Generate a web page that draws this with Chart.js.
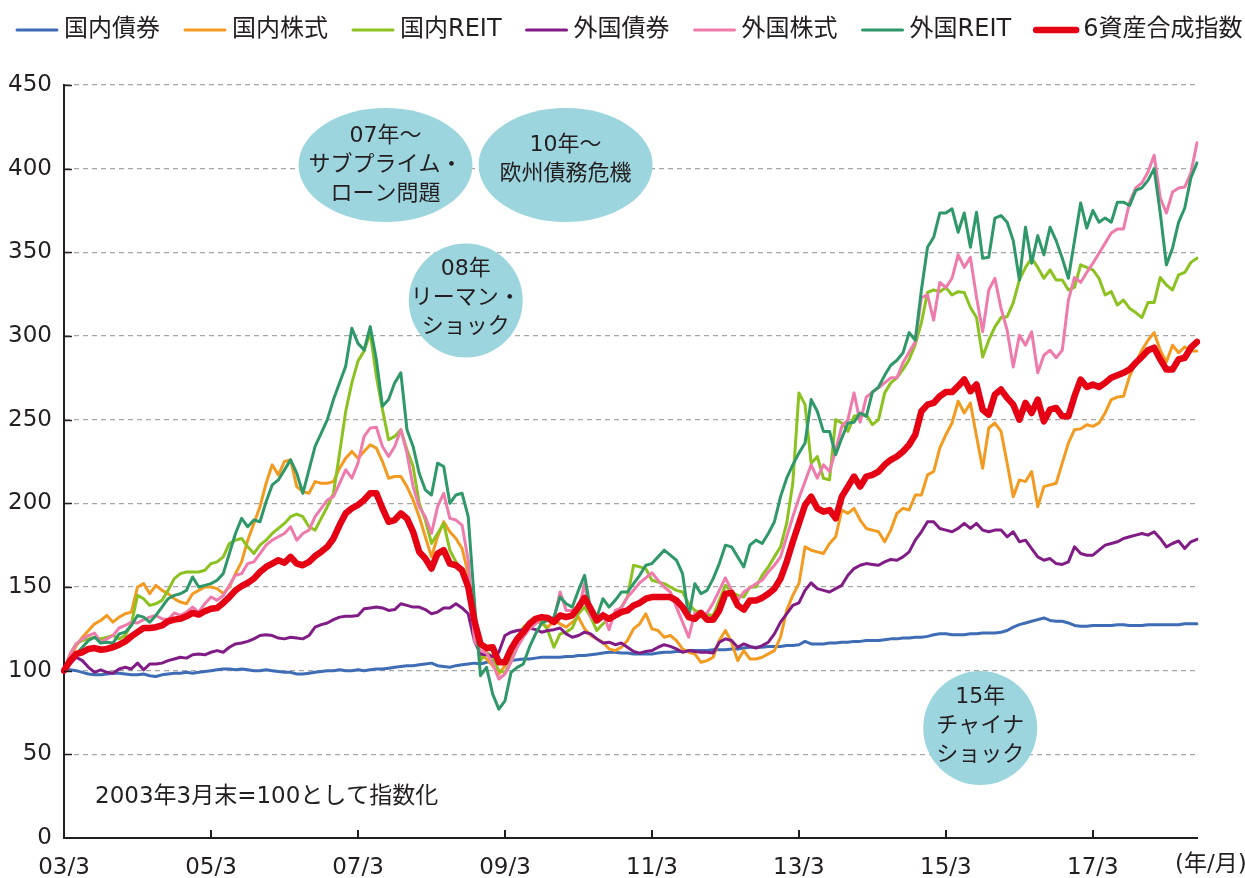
<!DOCTYPE html>
<html lang="ja">
<head>
<meta charset="utf-8">
<script src="https://cdn.jsdelivr.net/npm/chart.js@4.4.1/dist/chart.umd.min.js"></script>
<style>
html,body{margin:0;padding:0;background:#fff;}
#wrap{width:1245px;height:878px;position:relative;}
</style>
</head>
<body>
<div id="wrap"><canvas id="c"></canvas></div>
<script>
// ---- categories: month ends from 2003/3 to 2018/8 ----
const months = [];
for (let k = 0; k < 186; k++) {
  const m = 3 + k;
  months.push((2003 + Math.floor((m - 1) / 12)) + '/' + (((m - 1) % 12) + 1));
}
const xTickLabels = ['03/3', '05/3', '07/3', '09/3', '11/3', '13/3', '15/3', '17/3'];
const xUnitLabel = '(年/月)';
const noteText = '2003年3月末=100として指数化';

// ---- series values (index, 2003/3 = 100) ----
const domBond = [
 100,100.5,100,99,98,97.5,97.5,98,98.5,98.5,98,97.5,
 97.5,98,97,96.5,97.5,98,98.5,98.5,99,98.5,99,99.5,
 100,100.5,101,101,100.5,101,100.5,100,100,100.5,100,99.5,
 99,99,98,98,98.5,99,99.5,100,100,100.5,100,100,
 100.5,100,100.5,101,101,101.5,102,102.5,103,103,103.5,104,
 104.5,103,102.5,102,103,103.5,104,104.5,104,105,105.5,106,
 106,106,106.5,107,107,107.5,108,108,108,108,108.5,108.5,
 109,109,109.5,110,110.5,111,111,110.5,110.5,110,110,110,
 110,110.5,111,111,111.5,111.5,112,112,112,112,112.5,112.5,
 112.5,113,113,113.5,114,114,114,114.5,114.5,114.5,115,115,
 115.5,117.5,116,116,116,116.5,116.5,117,117,117.5,117.5,118,
 118,118,118.5,119,119,119.5,119.5,120,120,120.5,121.5,122,
 122,121.5,121.5,121.5,122,122,122.5,122.5,122.5,123,124,126,
 127.5,128.5,129.5,130.5,131.5,130,129.5,129.5,128.5,127,126.5,126.5,
 127,127,127,127,127.5,127.5,127,127,127,127.5,127.5,127.5,
 127.5,127.5,127.5,128,128,128];

const domStock = [
 100,108,115,120,124,128,130,133,129,132,134,135,
 150,152,146,151,148,146,143,141,140,146,148,150,
 150,149,146,150,158,165,178,188,198,212,223,217,
 225,226,210,207,206,213,212,212,213,221,227,231,
 227,231,235,233,225,215,216,216,210,202,192,180,
 168,180,189,183,179,173,158,124,110,107,103,98,
 103,110,116,123,127,130,128,126,130,128,126,129,
 132,125,121,119,117,113,112,114,118,125,128,134,
 125,124,120,121,118,113,111,110,105,106,108,118,
 124,117,106,112,107,107,108,110,112,120,136,145,
 152,174,172,171,170,176,180,196,194,197,190,185,
 184,183,177,184,194,197,196,205,205,217,219,233,
 241,248,261,254,260,240,221,245,248,243,224,204,
 214,213,219,198,210,211,212,224,236,244,244.5,247,
 246,248,254,262,263.5,264,276,284,291.5,297.5,302,291.5,
 284.5,294.5,290,293.5,291,291];

const domREIT = [
 100,110,116,118,119,120,119,120,121,119,121,128,
 145,143,139,140,142,148,155,158,159,159,159,160,
 164,165,168,176,178,179,174,170,175,178,182,185,
 188,192,193.5,192,186,184,191,198,206,230,255,272,
 285,291,302,276,256,238,240,244,232,222,200,190,
 176,182,188,172,165,160,150,128,106,111,108,100,
 99,106,120,126,129,130,130,124,114,122,123,125.5,
 134,138,132,124,128,131,133,138,144,163,162,161,
 154,153,152,150,148,147,140,136,134.5,133.5,133,142,
 151,147,145,144,150,150,157,162,168,174,188,212,
 266,259,224,228,215,214,250,248,243,252,253,253,
 247,250,266,272,275,280,286,295,308,326,327.5,326.5,
 329,324.5,326.5,326,317,311,287.5,297.5,305.5,311,311.5,320,
 333.5,341,346.5,341,334.5,339.5,333.5,333.5,327.5,329,342.5,341,
 339.5,334.5,324.5,326.5,318.5,321.5,316.5,314,311,320,320,335,
 330.5,327.5,336.5,338,344,346.5];

const forBond = [
 100,104,108,106,102,99,100.5,99,98.5,101,102,101,
 104.5,100.5,104,104,104.5,106,107,108,107.5,109.5,110,109.5,
 111,112,111,114,116,116.5,117.5,119,121,121.5,121,119.5,
 119,120,119.5,119,121,126,127.5,128.5,130.5,132,132.5,132.5,
 133,137,137.5,138,137.5,136,136.5,140,139,138,138,136.5,
 134,135,137.5,137.5,140,137.5,134,118,110,109.5,108.5,111,
 121,123,124,124.5,125.5,124.5,123,124,124.5,125.5,122,120,
 121,123,122,119,116.5,117,115.5,116.5,114,111.5,110.5,111.5,
 112,114,115.5,114.5,113,111,112,111.5,111,111,110.5,117,
 119,118,114,116,114.5,113.5,115,117,122,129,134,139,
 140.5,148,152.5,149,148,147,149,151,157,161,163,164,
 163.5,163,165,166.5,166,168,171,178,183,189,189,185,
 184,183,185,188,185,188,184,183,184,184,180,183,
 177,178,173,168,166,167,164,163.5,165,174,170,169,
 169,172,175,176,177,179,180,181,182,181,183,179,
 174,176,177.5,173,177,178.5];

const forStock = [
 100,110,116,119,121,122.5,117,119,121,125.5,127,129,
 128.5,130.5,132,133,131,130.5,134.5,133,135,138,135,140,
 144,142,145,151,157,158,164,165,170,175,178,180,
 182,186,178,182,184,192,197,202,204,212,220,215,
 224,240,245,245.5,234,228,234,244,230,210,198,192,
 182,198,206,191,190,187,166,118,112,110.5,104,95,
 98,105,114,120,125,128,131,132,130.5,147,136,136,
 136,152,132,130.5,134.5,124.5,136,137.5,144,148,152.5,155.5,
 158.5,154,150,147,138,129,120,134.5,133,134.5,140.5,148,
 155.5,148,142,147,149.5,152,154,159,163,168,180,192,
 203,213,223,215,223,219,232,246,250,266,248.5,263.5,
 266.5,269,272,275,275,284,290.5,296.5,323,324.5,309.5,332,
 329,334.5,348.5,341,347,323,302.5,327.5,334.5,316.5,303.5,281.5,
 300.5,294.5,302.5,278,288.5,291.5,287,291.5,321.5,335,332,338,
 343.5,349.5,355.5,361.5,364,364,380,388.5,391.5,398,408,382.5,
 373.5,386,388.5,389,397.5,415.5];

const forREIT = [
 100,106,110,114,118,120,116.5,117,116.5,122,123,127,
 133,132,129,133,138,143,145,146,148,156,150,151,
 152,154,158,170,182,191,186,190,189,201,211,214,
 220,226,218,206,220,234,242,250,262,272,282,304.6,
 295.6,291.6,305.6,286,258,262,272,278,244,234,218,208,
 205,224,222,200,205,206,192,142,97,102,86,77,
 82,99,102,104,114,122,128.5,130,132,144,140,138,
 148,157,136,132,143,138,142,147,147,152,157,163,
 164,168,172,169,166,158,132,152,146,148,155,164,
 175,174,168,162,175,178,176,182,189,204,215,223,
 230,236,262,255,243,243,229,239,248,248.5,254,252,
 266.5,269.5,276.5,282.5,285.5,290,302,297.5,327.5,353,359,373.5,
 373.5,376,362,373.5,353,374,346.5,347,370.5,372,368,357,
 333.5,365,343.5,360,348.5,365,357,346.5,334.5,357,379.5,364.5,
 375,368,370.5,368,380,380,378,387,388.5,393,400,373.5,
 342.5,352.5,368,376.5,394.5,403.5];

const composite = [
 100,106,110,111,113,113.5,112.5,113,114,115.5,117.5,120.5,
 123,125.5,125.5,126,127,129.5,130.5,131,132.5,134.5,133.5,135.5,
 137,137.5,140.5,144,148,150.5,152.5,155,159,162,164,166,
 164.5,168,164,163,165,168.5,171,174,179,187,194,197,
 199,202,206,206,197,189,190,194,191,183,171,167,
 161,170,172,164,163,160,150,130,116,113.5,114,105,
 105,113,119,123,128,131,132,131.5,129,133,132,133,
 138,143.5,137,130,133,131,133,135,136,139,140.5,143,
 144,144,144,144,142,138,132,131,134.5,130.5,130.5,136,
 146,146.5,139,136.5,142,142,143.5,146,149,155,165,177,
 188,199,204,197,195,196,191,204,210,216,210,216,
 217,219,223,226,228,231,235,241,255,259,260,264,
 266.5,266.5,270,274,267,271,256,253,265,268,263,259,
 250,260,254,262,249,256,257,252,252,264,274,269.5,
 271,269.5,272,275,276.5,278,280,284,287.5,291.5,293,286,
 280,280,286,287,293,296.5];

// ---- styles ----
const FONT = '"DejaVu Sans", "Noto Sans CJK JP", sans-serif';
const TEXT = '#231f20';
const BUBBLE = '#9dd5df';

const series = [
  { label: '国内債券', data: domBond, color: '#3e6cb5', width: 3 },
  { label: '国内株式', data: domStock, color: '#f39a20', width: 3 },
  { label: '国内REIT', data: domREIT, color: '#8cc220', width: 3 },
  { label: '外国債券', data: forBond, color: '#811c86', width: 3 },
  { label: '外国株式', data: forStock, color: '#ef7bac', width: 3 },
  { label: '外国REIT', data: forREIT, color: '#2f9868', width: 3 },
  { label: '6資産合成指数', data: composite, color: '#e60013', width: 6.5 }
];

// annotation bubbles: centre in (month index, index value), radii in px
const bubbles = [
  { lines: ['07年〜', 'サブプライム・', 'ローン問題'], at: [52.5, 402.2], rx: 87, ry: 57, dy: 0 },
  { lines: ['10年〜', '欧州債務危機'], at: [81.9, 402.2], rx: 87, ry: 57, dy: -5 },
  { lines: ['08年', 'リーマン・', 'ショック'], at: [65.6, 321.2], rx: 57, ry: 57, dy: -2 },
  { lines: ['15年', 'チャイナ', 'ショック'], at: [149.6, 65.7], rx: 57, ry: 57, dy: -2 }
];

const decor = {
  id: 'decor',
  beforeDatasetsDraw(chart) {
    const { ctx, scales: { x, y } } = chart;
    ctx.save();
    bubbles.forEach(b => {
      const cx = x.getPixelForValue(b.at[0]);
      const cy = y.getPixelForValue(b.at[1]);
      ctx.fillStyle = BUBBLE;
      ctx.beginPath();
      ctx.ellipse(cx, cy, b.rx, b.ry, 0, 0, Math.PI * 2);
      ctx.fill();
      ctx.fillStyle = TEXT;
      ctx.font = '22px ' + FONT;
      ctx.textAlign = 'center';
      ctx.textBaseline = 'middle';
      const n = b.lines.length;
      b.lines.forEach((t, j) => ctx.fillText(t, cx, cy + b.dy + (j - (n - 1) / 2) * 29));
    });
    ctx.restore();
  },
  afterDraw(chart) {
    const { ctx, scales: { x, y } } = chart;
    ctx.save();
    // inward tick marks
    ctx.strokeStyle = TEXT;
    ctx.lineWidth = 2;
    for (let i = 24; i < months.length; i += 24) {
      const px = Math.round(x.getPixelForValue(i));
      ctx.beginPath(); ctx.moveTo(px, y.bottom); ctx.lineTo(px, y.bottom - 8); ctx.stroke();
    }
    ctx.lineWidth = 1.5;
    for (let v = 50; v <= 450; v += 50) {
      const py = Math.round(y.getPixelForValue(v)) + 0.5;
      ctx.beginPath(); ctx.moveTo(x.left, py); ctx.lineTo(x.left + 8, py); ctx.stroke();
    }
    // unit label on x axis
    ctx.fillStyle = TEXT;
    ctx.font = '23px ' + FONT;
    ctx.textAlign = 'left';
    ctx.textBaseline = 'top';
    ctx.fillText(xUnitLabel, 1175, x.top + 16);
    // note
    ctx.textBaseline = 'middle';
    ctx.fillText(noteText, 95, 797);
    // legend
    let lx = 15;
    const ly = 30;
    ctx.font = '24px ' + FONT;
    ctx.lineCap = 'round';
    chart.data.datasets.forEach(ds => {
      ctx.strokeStyle = ds.borderColor;
      ctx.lineWidth = ds.borderWidth;
      ctx.beginPath(); ctx.moveTo(lx + 2, ly); ctx.lineTo(lx + 42, ly); ctx.stroke();
      lx += 49;
      ctx.fillStyle = TEXT;
      ctx.fillText(ds.label, lx, ly);
      lx += ctx.measureText(ds.label).width + 23;
    });
    ctx.restore();
  }
};

new Chart(document.getElementById('c'), {
  type: 'line',
  data: {
    labels: months,
    datasets: series.map((s, k) => ({
      label: s.label,
      data: s.data,
      borderColor: s.color,
      backgroundColor: s.color,
      borderWidth: s.width,
      pointRadius: 0,
      pointHoverRadius: 0,
      tension: 0,
      fill: false,
      borderJoinStyle: 'round',
      borderCapStyle: 'round',
      order: series.length - k
    }))
  },
  options: {
    responsive: true,
    maintainAspectRatio: false,
    devicePixelRatio: 1,
    animation: false,
    layout: { padding: { top: 85, right: 48, bottom: 0, left: 0 } },
    plugins: { legend: { display: false }, tooltip: { enabled: false } },
    scales: {
      x: {
        type: 'category',
        offset: false,
        grid: { display: false, drawTicks: false },
        border: { display: true, color: TEXT, width: 2 },
        ticks: {
          autoSkip: false, maxRotation: 0, minRotation: 0, padding: 16,
          color: TEXT, font: { family: FONT, size: 23 },
          callback: (v, i) => (i % 24 === 0 ? xTickLabels[i / 24] : '')
        },
        afterFit: s => { s.height = 40; }
      },
      y: {
        min: 0, max: 450,
        ticks: { stepSize: 50, padding: 12, color: TEXT, font: { family: FONT, size: 23 } },
        grid: {
          drawTicks: false,
          lineWidth: 1.2,
          color: c => (c.tick && c.tick.value === 0 ? 'rgba(0,0,0,0)' : '#a6a6a6')
        },
        border: { display: true, color: TEXT, width: 2, dash: [5, 4] },
        afterFit: s => { s.width = 64; }
      }
    }
  },
  plugins: [decor]
});
</script>
</body>
</html>
